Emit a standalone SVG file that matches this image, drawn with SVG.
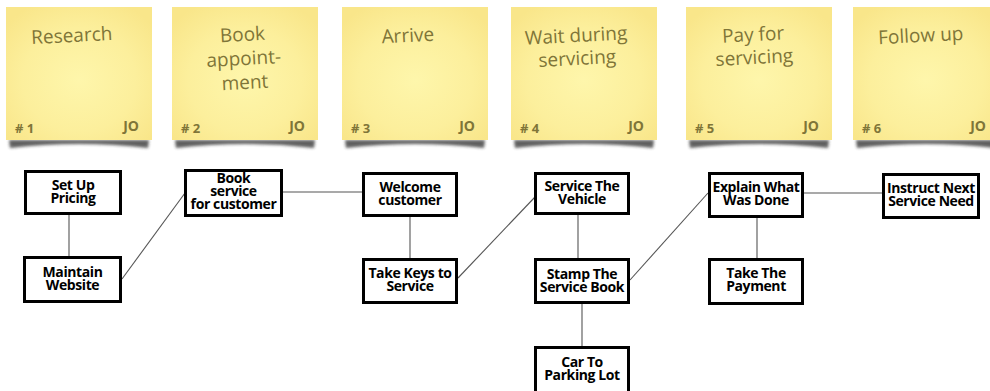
<svg xmlns="http://www.w3.org/2000/svg" width="990" height="391" viewBox="0 0 990 391">
<defs>
<radialGradient id="paper" cx="50%" cy="55%" r="65%">
<stop offset="0" stop-color="#fef6ab"/>
<stop offset="0.6" stop-color="#fcef9c"/>
<stop offset="1" stop-color="#f9e68a"/>
</radialGradient>
<filter id="blur" x="-10%" y="-100%" width="120%" height="300%">
<feGaussianBlur stdDeviation="1.6"/>
</filter>
<g id="shadow">
<path d="M3,140 L143,140 L142,148 Q73,140 4,148 Z" fill="#2a2a2a" opacity="0.75" filter="url(#blur)"/>
</g>
</defs>
<style>
.note{fill:url(#paper);}
.title{font-family:"Open Sans","Noto Sans",sans-serif;font-size:19px;fill:#7f7538;text-anchor:middle;}
.num{font-family:"Open Sans","Noto Sans",sans-serif;font-size:13px;font-weight:bold;fill:#7f7538;}
.jo{font-family:"Open Sans","Noto Sans",sans-serif;font-size:14px;font-weight:bold;fill:#7f7538;text-anchor:end;}
.box rect{fill:#fff;stroke:#000;stroke-width:3;}
.box text{font-family:"Open Sans","Noto Sans",sans-serif;font-size:14px;font-weight:bold;fill:#000;text-anchor:middle;letter-spacing:-0.4px;}
.conn line{stroke:#555;stroke-width:1.1;}
</style>
<rect width="990" height="391" fill="#fff"/>

<g id="note1">
<use href="#shadow" x="6"/>
<rect class="note" x="6" y="7" width="146" height="133"/>
<text class="title" transform="rotate(-3 72 40)" x="72" y="42">Research</text>
<text class="num" x="15" y="133"># 1</text>
<text class="jo" x="139" y="131">JO</text>
</g>
<g id="note2">
<use href="#shadow" x="172"/>
<rect class="note" x="172" y="7" width="146" height="133"/>
<text class="title" transform="rotate(-3 244 64)"><tspan x="244" y="41">Book</tspan><tspan x="244" y="65">appoint-</tspan><tspan x="244" y="89">ment</tspan></text>
<text class="num" x="181" y="133"># 2</text>
<text class="jo" x="305" y="131">JO</text>
</g>
<g id="note3">
<use href="#shadow" x="342"/>
<rect class="note" x="342" y="7" width="146" height="133"/>
<text class="title" transform="rotate(-3 408 40)" x="408" y="42">Arrive</text>
<text class="num" x="351" y="133"># 3</text>
<text class="jo" x="475" y="131">JO</text>
</g>
<g id="note4">
<use href="#shadow" x="511"/>
<rect class="note" x="511" y="7" width="146" height="133"/>
<text class="title" transform="rotate(-3 577 54)"><tspan x="577" y="42">Wait during</tspan><tspan x="577" y="65">servicing</tspan></text>
<text class="num" x="520" y="133"># 4</text>
<text class="jo" x="644" y="131">JO</text>
</g>
<g id="note5">
<use href="#shadow" x="686"/>
<rect class="note" x="686" y="7" width="146" height="133"/>
<text class="title" transform="rotate(-3 754 52)"><tspan x="754" y="41">Pay for</tspan><tspan x="754" y="64">servicing</tspan></text>
<text class="num" x="695" y="133"># 5</text>
<text class="jo" x="819" y="131">JO</text>
</g>
<g id="note6">
<use href="#shadow" x="853"/>
<rect class="note" x="853" y="7" width="146" height="133"/>
<text class="title" transform="rotate(-3 921 40)" x="921" y="42">Follow up</text>
<text class="num" x="862" y="133"># 6</text>
<text class="jo" x="986" y="131">JO</text>
</g>

<g id="connectors" class="conn">
<line x1="69" y1="215" x2="69" y2="256"/>
<line x1="122" y1="279" x2="185" y2="193"/>
<line x1="283" y1="192" x2="362" y2="192"/>
<line x1="410" y1="217" x2="410" y2="258"/>
<line x1="458" y1="278" x2="535" y2="197"/>
<line x1="578" y1="215" x2="578" y2="258"/>
<line x1="582" y1="304" x2="582" y2="346"/>
<line x1="630" y1="280" x2="708" y2="193"/>
<line x1="757" y1="218" x2="757" y2="258"/>
<line x1="804" y1="193" x2="882" y2="193"/>
</g>

<g id="setup" class="box">
<rect x="25.5" y="171.5" width="95" height="42"/>
<text><tspan x="73" y="190">Set Up</tspan><tspan x="73" y="203">Pricing</tspan></text>
</g>
<g id="maintain" class="box">
<rect x="24.5" y="257.5" width="96" height="44"/>
<text><tspan x="72.5" y="277">Maintain</tspan><tspan x="72.5" y="290">Website</tspan></text>
</g>
<g id="book" class="box">
<rect x="185.5" y="170.5" width="96" height="45"/>
<text><tspan x="233.5" y="183">Book</tspan><tspan x="233.5" y="196">service</tspan><tspan x="233.5" y="208.5">for customer</tspan></text>
</g>
<g id="welcome" class="box">
<rect x="363.5" y="173.5" width="93" height="42"/>
<text><tspan x="410" y="192">Welcome</tspan><tspan x="410" y="205">customer</tspan></text>
</g>
<g id="takekeys" class="box">
<rect x="363.5" y="259.5" width="93" height="43"/>
<text><tspan x="410" y="278">Take Keys to</tspan><tspan x="410" y="291">Service</tspan></text>
</g>
<g id="servicevehicle" class="box">
<rect x="535.5" y="173.5" width="93" height="40"/>
<text><tspan x="582" y="191">Service The</tspan><tspan x="582" y="204">Vehicle</tspan></text>
</g>
<g id="stamp" class="box">
<rect x="535.5" y="259.5" width="93" height="43"/>
<text><tspan x="582" y="279">Stamp The</tspan><tspan x="582" y="292">Service Book</tspan></text>
</g>
<g id="car" class="box">
<rect x="535.5" y="347.5" width="93" height="45"/>
<text><tspan x="582" y="367">Car To</tspan><tspan x="582" y="380">Parking Lot</tspan></text>
</g>
<g id="explain" class="box">
<rect x="709.5" y="173.5" width="93" height="43"/>
<text><tspan x="756" y="192">Explain What</tspan><tspan x="756" y="205">Was Done</tspan></text>
</g>
<g id="payment" class="box">
<rect x="709.5" y="259.5" width="93" height="44"/>
<text><tspan x="756" y="278">Take The</tspan><tspan x="756" y="291">Payment</tspan></text>
</g>
<g id="instruct" class="box">
<rect x="883.5" y="174.5" width="95" height="43"/>
<text><tspan x="931" y="193">Instruct Next</tspan><tspan x="931" y="206">Service Need</tspan></text>
</g>
</svg>
